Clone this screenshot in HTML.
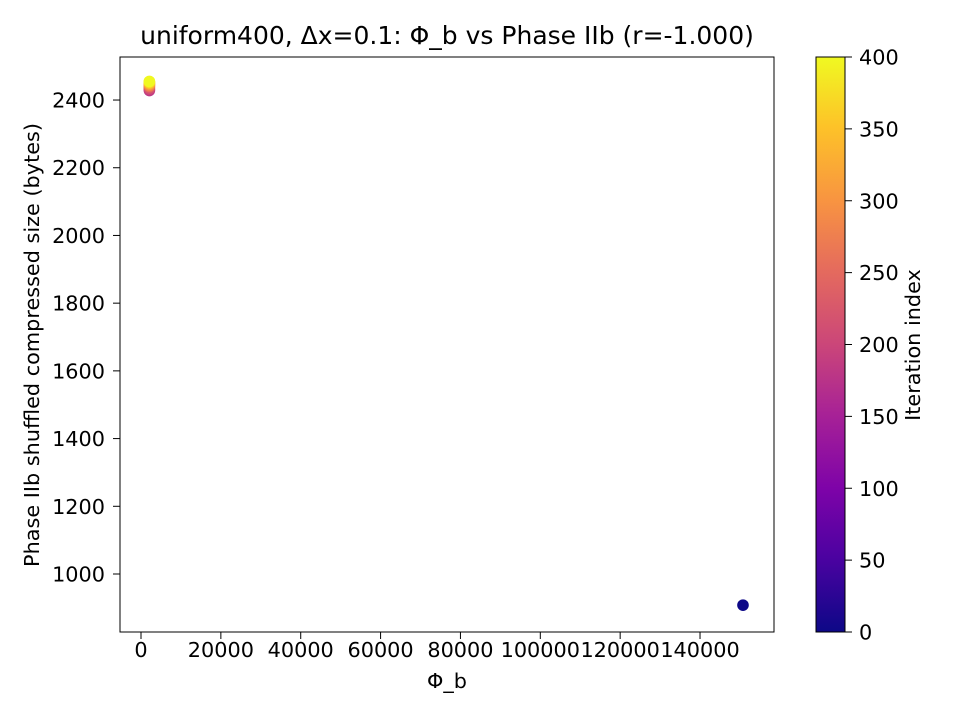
<!DOCTYPE html>
<html><head><meta charset="utf-8"><style>
body{margin:0;background:#fff;font-family:"DejaVu Sans","Liberation Sans",sans-serif}
svg text{font-family:"DejaVu Sans","Liberation Sans",sans-serif}
</style></head><body>
<svg id="c" width="960" height="720" xmlns="http://www.w3.org/2000/svg">
<defs><linearGradient id="pl" x1="0" y1="1" x2="0" y2="0">
<stop offset="0" stop-color="#0d0887"/><stop offset="0.13" stop-color="#4c02a1"/><stop offset="0.25" stop-color="#7e03a8"/><stop offset="0.38" stop-color="#a82296"/><stop offset="0.5" stop-color="#cb4679"/><stop offset="0.63" stop-color="#e56b5d"/><stop offset="0.75" stop-color="#f89441"/><stop offset="0.88" stop-color="#fdc328"/><stop offset="1" stop-color="#f0f921"/></linearGradient></defs>
<rect x="120" y="57" width="654" height="575" fill="#fff" stroke="#000" stroke-width="1"/>
<g id="marks"></g><g id="axes"></g>
<text x="447" y="44" font-size="25" text-anchor="middle">uniform400, Δx=0.1: Φ_b vs Phase IIb (r=-1.000)</text>
<text x="447" y="688" font-size="20.8" text-anchor="middle">Φ_b</text>
<text transform="translate(39,345) rotate(-90)" font-size="20.8" text-anchor="middle">Phase IIb shuffled compressed size (bytes)</text>
<rect x="816" y="57" width="29" height="575" fill="url(#pl)" stroke="#000" stroke-width="1"/>
<text transform="translate(920,345) rotate(-90)" font-size="20.8" text-anchor="middle">Iteration index</text>
</svg>
<script>
const phiB=[150760,2100,2100,2100,2100,2100,2100,2100,2100,2100,2100,2100];
const sizes=[908,2428,2432,2436,2440,2443,2446,2448,2450,2452,2454,2455];
const iters=[0,180,200,220,250,280,300,320,340,360,380,399];
const xTicks=[0,20000,40000,60000,80000,100000,120000,140000];
const yTicks=[1000,1200,1400,1600,1800,2000,2200,2400];
const cTicks=[0,50,100,150,200,250,300,350,400];
const NS="http://www.w3.org/2000/svg";
const X=v=>141+(v/20000)*79.86, Y=v=>574-(v-1000)/200*67.71, C=v=>632-v/400*575;
const stops=[[13,8,135],[76,2,161],[126,3,168],[168,34,150],[203,70,121],[229,107,93],[248,148,65],[253,195,40],[240,249,33]];
function col(t){t=Math.max(0,Math.min(1,t))*8;const i=Math.min(7,Math.floor(t)),f=t-i,a=stops[i],b=stops[i+1];return `rgb(${a.map((v,k)=>Math.round(v+(b[k]-v)*f)).join(',')})`;}
function mk(tag,at,p){const e=document.createElementNS(NS,tag);for(const k in at)e.setAttribute(k,at[k]);p.appendChild(e);return e;}
const m=document.getElementById('marks'),ax=document.getElementById('axes');
phiB.forEach((v,i)=>{const c=mk('circle',{cx:X(v),cy:Y(sizes[i]),r:5.8,fill:col(iters[i]/400)},m);

});
xTicks.forEach(v=>{const x=X(v);mk('line',{x1:x,x2:x,y1:632,y2:639,stroke:'#000'},ax);
const t=mk('text',{x:x,y:657,'font-size':20.8,'text-anchor':'middle'},ax);t.textContent=v;

});
yTicks.forEach(v=>{const y=Y(v);mk('line',{x1:113,x2:120,y1:y,y2:y,stroke:'#000'},ax);
const t=mk('text',{x:105,y:y+7.5,'font-size':20.8,'text-anchor':'end'},ax);t.textContent=v;

});
cTicks.forEach(v=>{const y=C(v);mk('line',{x1:845,x2:852,y1:y,y2:y,stroke:'#000'},ax);
const t=mk('text',{x:859,y:y+7.5,'font-size':20.8},ax);t.textContent=v;

});
</script>
</body></html>
